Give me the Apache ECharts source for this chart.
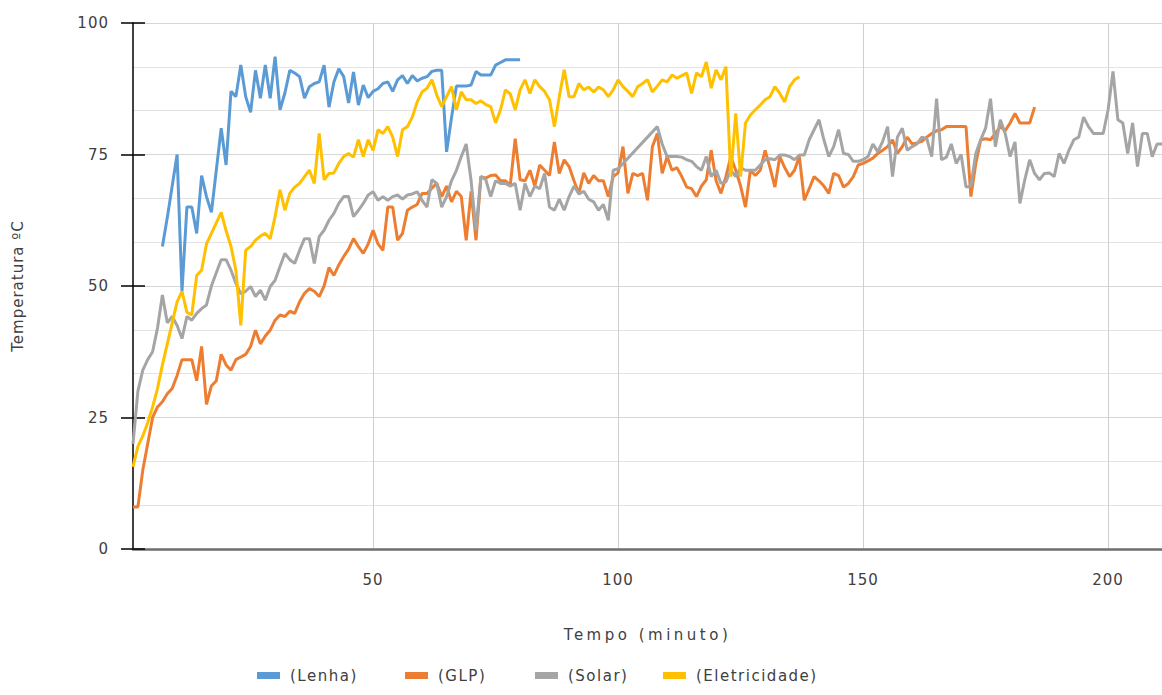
<!DOCTYPE html>
<html>
<head>
<meta charset="utf-8">
<script src="https://cdn.jsdelivr.net/npm/echarts@6/dist/echarts.min.js"></script>
<style>
html,body{margin:0;padding:0;background:#fff;}
#chart{width:1162px;height:695px;}
</style>
</head>
<body>
<div id="chart"></div>
<script>
// ---- data (minute-by-minute readings, temperature in ºC) ----
var seriesNames = ['(Lenha)', '(GLP)', '(Solar)', '(Eletricidade)'];
var xTicks = [50, 100, 150, 200];
var yTicks = [0, 25, 50, 75, 100];

var lenhaStart = 7;
var lenhaTemp = [57.5,63,69,75,49,65,65,60,71,67,64,72,80,73,87,86,92,86,83,91,85.7,92,85.7,93.6,83.5,86.7,91,90.5,89.8,85.7,87.9,88.5,88.8,92,84,88.8,91.3,89.8,84.8,90.7,84.4,88.2,85.8,87,87.5,88.5,88.8,87,89.2,90,88.5,90,89,89.5,89.8,90.8,91,91,75.5,82,88,88,88,88.2,90.8,90.1,90.1,90.1,92,92.5,93,93,93,93];

var glpStart = 1;
var glpTemp = [8,8,15,20,25,27,28,29.5,30.5,33,36,36,36,32,38.5,27.5,31,32,37,35,34,36,36.5,37,38.5,41.6,39,40.5,41.6,43.5,44.5,44.2,45.2,44.8,47,48.6,49.5,49,48,50,53.5,52,54,55.6,57,59,57.5,56.2,58,60.6,58,56.8,65,65,58.7,60,64.4,65,65.5,67.6,67.6,68.6,69.5,67,69,66,68,67,58.7,68,58.7,70.8,70.5,71,71.1,70,70,69.2,78,70.2,70,72,69,73,72,71,77.4,71.4,74,72.7,70,67.6,71.5,69.5,71,70,70,67,70.8,71.5,76.5,67.6,71.4,71,71.4,66.3,76.5,79,71.4,74.6,72,72.5,70.8,68.8,68.5,67,69,70.2,75.8,70,67.6,70.8,74.6,72,69,65,72,71,72,75.8,72.5,68.8,74.6,72.5,70.8,72,74.6,66.3,68.5,70.8,70,69,67.6,71.4,71,68.8,69.5,70.8,73,73.3,73.8,74.3,75.2,75.8,76.5,77.8,75.2,76.5,78.3,77,77.2,77.5,78.3,79,79.5,79.7,80.3,80.3,80.3,80.3,80.3,67,73.3,77.8,78,77.8,79,80.3,79.5,81,82.8,81,81,81,84];

var solarStart = 1;
var solarTemp = [20,30,34,36,37.5,42,48.3,43,44.2,42.5,40,44.2,43.5,44.8,45.7,46.4,50,52.5,55,55,53,50.5,48.5,49,49.9,48,49.2,47.3,49.9,51.1,53.7,56.2,55,54.3,56.8,59,59,54.3,59.4,60.6,62.5,63.8,65.7,67,67,63.2,64.4,65.7,67.3,67.9,66.3,67,66.3,67,67.3,66.5,67.3,67.5,67.9,66.3,65,70.2,69.5,65,67,70,72,74.6,77,70,60.6,70.8,70.2,67,70,69.5,69.5,69,69.5,64.4,69.5,67,69,68.5,71.4,65,64.4,66.5,64.4,67,69,67.5,68,66.5,66,64.4,65.5,62.5,72,72.3,null,null,null,null,null,null,null,80.3,77,74.6,74.6,74.6,74.5,74,73.7,72.7,72,74.6,70.8,72,69.5,69.8,72,70.8,72.5,72,72,72,73,74,74.2,74,74.9,74.9,74.6,74,74.9,74.9,77.8,79.7,81.6,77.8,74.6,76.5,79.7,75.2,75,73.7,73.7,74,74.6,77,75.5,77.5,80.3,70.8,78.3,80,75.8,76.5,77,78.3,78,74.6,85.6,74,74.5,77,73.3,75,68.8,69,75.2,77.8,80,85.6,76.5,81.6,79,74.6,77.4,65.7,70.2,74,71.4,70.2,71.4,71.5,70.8,75.2,73.3,75.8,77.8,78.3,82.1,80.3,79,79,79,83.5,90.8,81.6,81,75.2,81,72.7,79,79,74.6,77,77];

var eletStart = 1;
var eletTemp = [15.6,19.5,21.5,24,27,30.5,35,39,43,47,49,45,44.5,52,53,58,60,62,64,60.5,57.5,53,42.5,56.8,57.5,58.7,59.5,60,59,63.2,68.3,64.4,67.6,68.8,69.5,70.8,72,69.5,79,70.2,71.4,71.5,73.3,74.6,75.2,74.5,77.8,74.6,77.8,75.8,79.7,79,80.3,78.3,74.6,79.7,80.3,82.1,85,86.9,87.6,89.2,86.3,84.1,86,87.9,83.5,86.9,85.4,85.4,84.7,85.2,84.5,84.1,81,83.5,87.3,86.5,83.5,87.3,89.2,86.6,89.2,87.9,87,85.4,80.3,86,91.1,86,86,88.5,87.3,87.8,86.9,87.8,87.3,86,87.3,89.2,87.9,87,86,87.9,88.5,89.2,86.9,88,89.2,88.8,90.1,89.5,90,90.5,86.6,90.5,89.8,92.6,87.6,91.1,89.2,91.7,70.8,82.8,70.8,81,82.5,83.5,84.4,85.4,86,87.9,86.6,85,87.9,89.2,89.8];

var colors = ['#5B9BD5', '#ED7D31', '#A5A5A5', '#FFC000'];
var legendLefts = [257, 405, 535, 663];

function pairs(start, arr) {
  return arr.map(function (v, i) { return [start + i, v]; });
}

var chart = echarts.init(document.getElementById('chart'), null, {renderer: 'svg'});
var font = 'DejaVu Sans';
var textColor = '#404040';

var datasets = [
  pairs(lenhaStart, lenhaTemp),
  pairs(glpStart, glpTemp),
  pairs(solarStart, solarTemp),
  pairs(eletStart, eletTemp)
];

var option = {
  animation: false,
  backgroundColor: '#ffffff',
  color: colors,
  grid: {left: 133, right: 0, top: 23, bottom: 146, containLabel: false},
  legend: seriesNames.map(function (name, i) {
    return {
      data: [{name: name, icon: 'rect', itemStyle: {color: colors[i], borderWidth: 0}}],
      left: legendLefts[i], top: 668,
      icon: 'rect', itemWidth: 23, itemHeight: 7, padding: 0,
      itemStyle: {borderWidth: 0},
      lineStyle: {width: 0},
      textStyle: {fontFamily: font, fontSize: 15, color: textColor, padding: [0, 0, 0, 5]}
    };
  }),
  xAxis: {
    type: 'value', min: 1, max: 211,
    name: 'Tempo (minuto)', nameLocation: 'middle', nameGap: 78,
    nameTextStyle: {fontFamily: font, fontSize: 15, color: textColor},
    axisLine: {show: true, lineStyle: {color: '#6e6e6e', width: 2.5}},
    axisTick: {show: false, customValues: xTicks},
    axisLabel: {customValues: xTicks, margin: 23, fontFamily: font, fontSize: 15, color: textColor},
    splitLine: {show: true, lineStyle: {color: '#cfcfcf', width: 1}}
  },
  yAxis: [{
    type: 'value', min: 0, max: 100, interval: 25,
    name: 'Temperatura ºC', nameLocation: 'middle', nameGap: 108, nameRotate: 90,
    nameTextStyle: {fontFamily: font, fontSize: 15, color: textColor},
    axisLine: {show: true, lineStyle: {color: '#000', width: 1.5}},
    axisTick: {show: true, length: 12, lineStyle: {color: '#000', width: 1.5}},
    axisLabel: {margin: 24, fontFamily: font, fontSize: 15, color: textColor},
    splitLine: {show: true, lineStyle: {color: '#d6d6d6', width: 1}},
    minorTick: {show: false, splitNumber: 3},
    minorSplitLine: {show: true, lineStyle: {color: '#e3e3e3', width: 1}}
  }, {
    type: 'value', min: 0, max: 100, interval: 25, position: 'left',
    axisLine: {show: false},
    axisTick: {show: true, inside: true, length: 12, lineStyle: {color: '#000', width: 1.5}},
    axisLabel: {show: false},
    splitLine: {show: false}
  }],
  series: seriesNames.map(function (name, i) {
    return {
      name: name, type: 'line', data: datasets[i],
      yAxisIndex: 0,
      showSymbol: false, symbol: 'none',
      connectNulls: true,
      lineStyle: {width: 3, color: colors[i]},
      itemStyle: {color: colors[i]},
      z: 2
    };
  })
};
chart.setOption(option);

// letter spacing of the reference's typography
var spacing = {'Tempo (minuto)': '3.5px', 'Temperatura ºC': '1px'};
var texts = document.querySelectorAll('#chart svg text');
texts.forEach(function (t) {
  var s = spacing[t.textContent];
  if (s) { t.style.letterSpacing = s; }
  else if (seriesNames.indexOf(t.textContent) >= 0) { t.style.letterSpacing = '1.5px'; }
  else { t.style.letterSpacing = '1px'; }
});
</script>
</body>
</html>
